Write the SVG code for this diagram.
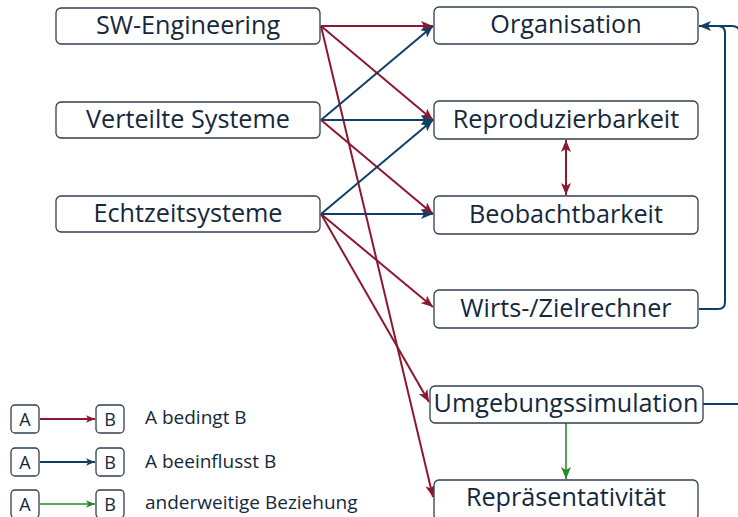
<svg xmlns="http://www.w3.org/2000/svg" width="738" height="517" viewBox="0 0 738 517">
<style>
.box{fill:#fff;stroke:#2f3f4f;stroke-width:1.3}
.t{font-family:"Open Sans","Noto Sans",sans-serif;font-size:25.2px;fill:#14283c;text-anchor:middle;dominant-baseline:central}
.lt{font-family:"Open Sans","Noto Sans",sans-serif;font-size:19px;fill:#14283c;dominant-baseline:central}
.lb{font-family:"Open Sans","Noto Sans",sans-serif;font-size:18px;fill:#14283c;text-anchor:middle;dominant-baseline:central}
.r{stroke:#8e1730;stroke-width:2;fill:none}
.b{stroke:#123e66;stroke-width:2;fill:none}
.g{stroke:#2a8a2a;stroke-width:1.6;fill:none}
</style>
<defs>
<marker id="mr" viewBox="0 0 12 10" refX="12" refY="5" markerWidth="12" markerHeight="10" markerUnits="userSpaceOnUse" orient="auto-start-reverse"><path d="M0,0 L12,5 L0,10 L3,5 z" fill="#8e1730"/></marker>
<marker id="mb" viewBox="0 0 12 10" refX="12" refY="5" markerWidth="12" markerHeight="10" markerUnits="userSpaceOnUse" orient="auto"><path d="M0,0 L12,5 L0,10 L3,5 z" fill="#123e66"/></marker>
<marker id="mg" viewBox="0 0 12 10" refX="12" refY="5" markerWidth="12" markerHeight="10" markerUnits="userSpaceOnUse" orient="auto"><path d="M0,0 L12,5 L0,10 L3,5 z" fill="#2a8a2a"/></marker>
<marker id="mrs" viewBox="0 0 12 10" refX="12" refY="5" markerWidth="9" markerHeight="8" markerUnits="userSpaceOnUse" orient="auto"><path d="M0,0 L12,5 L0,10 L3,5 z" fill="#8e1730"/></marker>
<marker id="mbs" viewBox="0 0 12 10" refX="12" refY="5" markerWidth="9" markerHeight="8" markerUnits="userSpaceOnUse" orient="auto"><path d="M0,0 L12,5 L0,10 L3,5 z" fill="#123e66"/></marker>
<marker id="mgs" viewBox="0 0 12 10" refX="12" refY="5" markerWidth="9" markerHeight="8" markerUnits="userSpaceOnUse" orient="auto"><path d="M0,0 L12,5 L0,10 L3,5 z" fill="#2a8a2a"/></marker>
</defs>
<g id="connectors">
<path class="r" d="M321,26 L433,26" marker-end="url(#mr)"/>
<path class="r" d="M321,26 L433,120" marker-end="url(#mr)"/>
<path class="r" d="M321,26 L433,497" marker-end="url(#mr)"/>
<path class="b" d="M321,120 L433,26" marker-end="url(#mb)"/>
<path class="b" d="M321,120 L433,120" marker-end="url(#mb)"/>
<path class="r" d="M321,120 L433,214" marker-end="url(#mr)"/>
<path class="b" d="M321,214 L433,120" marker-end="url(#mb)"/>
<path class="b" d="M321,214 L433,214" marker-end="url(#mb)"/>
<path class="r" d="M321,214 L433,307" marker-end="url(#mr)"/>
<path class="r" d="M321,214 L429,402" marker-end="url(#mr)"/>
<path class="r" d="M566,140 L566,195" marker-start="url(#mr)" marker-end="url(#mr)"/>
<path class="g" d="M566,423 L566,479" marker-end="url(#mg)"/>
<path class="b" d="M699,309 L718,309 Q725,309 725,302 L725,33 Q725,26 718,26 L699,26" marker-end="url(#mb)"/>
<path class="b" d="M703,404 L740,404 L740,34 Q740,26 732,26 L718,26"/>
</g>
<g id="sw"><rect class="box" x="56" y="8" width="264" height="36" rx="5"/><text class="t" x="188" y="24">SW-Engineering</text></g>
<g id="vs"><rect class="box" x="56" y="102" width="264" height="36" rx="5"/><text class="t" x="188" y="118">Verteilte Systeme</text></g>
<g id="ez"><rect class="box" x="56" y="196" width="264" height="36" rx="5"/><text class="t" x="188" y="212">Echtzeitsysteme</text></g>
<g id="org"><rect class="box" x="434" y="7" width="264" height="37" rx="5"/><text class="t" x="566" y="23">Organisation</text></g>
<g id="rep"><rect class="box" x="434" y="101" width="264" height="38" rx="5"/><text class="t" x="566" y="118">Reproduzierbarkeit</text></g>
<g id="beo"><rect class="box" x="434" y="196" width="264" height="38" rx="5"/><text class="t" x="566" y="213">Beobachtbarkeit</text></g>
<g id="wz"><rect class="box" x="434" y="290" width="264" height="38" rx="5"/><text class="t" x="566" y="307">Wirts-/Zielrechner</text></g>
<g id="ums"><rect class="box" x="430" y="386" width="273" height="37" rx="5"/><text class="t" x="566" y="402">Umgebungssimulation</text></g>
<g id="rpt"><rect class="box" x="434" y="480" width="264" height="40" rx="5"/><text class="t" x="566" y="496">Repräsentativität</text></g>
<g id="legend">
<rect class="box" x="11" y="405" width="28" height="28" rx="4"/><text class="lb" x="25" y="419">A</text>
<rect class="box" x="96" y="405" width="28" height="28" rx="4"/><text class="lb" x="110" y="419">B</text>
<path class="r" d="M40,419 L95,419" stroke-width="1.6" marker-end="url(#mrs)"/>
<text class="lt" x="145" y="417">A bedingt B</text>
<rect class="box" x="11" y="448" width="28" height="28" rx="4"/><text class="lb" x="25" y="462">A</text>
<rect class="box" x="96" y="448" width="28" height="28" rx="4"/><text class="lb" x="110" y="462">B</text>
<path class="b" d="M40,462 L95,462" stroke-width="1.6" marker-end="url(#mbs)"/>
<text class="lt" x="145" y="461">A beeinflusst B</text>
<rect class="box" x="11" y="490" width="28" height="28" rx="4"/><text class="lb" x="25" y="504">A</text>
<rect class="box" x="96" y="490" width="28" height="28" rx="4"/><text class="lb" x="110" y="504">B</text>
<path class="g" d="M40,504 L95,504" marker-end="url(#mgs)"/>
<text class="lt" x="145" y="502">anderweitige Beziehung</text>
</g>
</svg>
